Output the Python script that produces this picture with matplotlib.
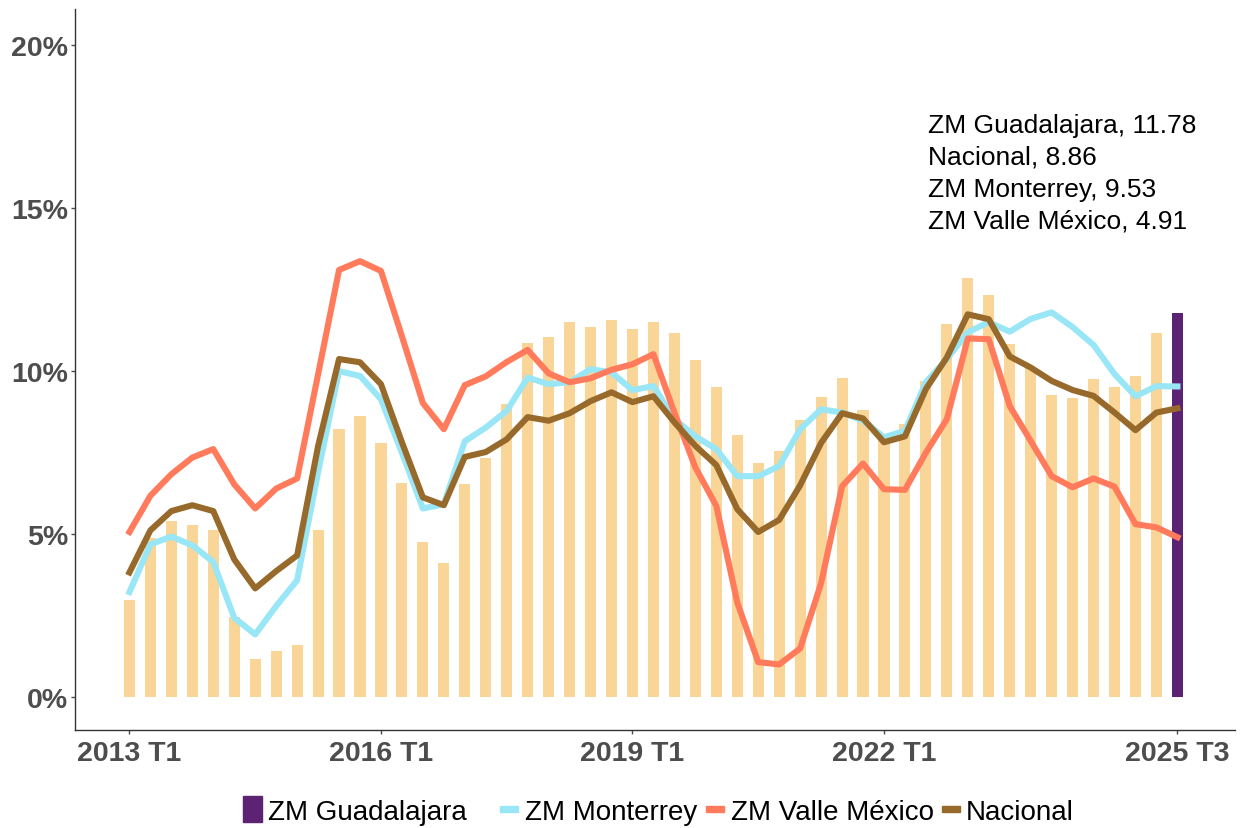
import numpy as np
import matplotlib
matplotlib.use("Agg")
import matplotlib.pyplot as plt
from matplotlib.patches import Rectangle

plt.rcParams['font.family'] = ['Liberation Sans', 'DejaVu Sans']

# quarters 2013 T1 .. 2025 T3
years = list(range(2013, 2026))
periodos = [f"{y} T{q}" for y in years for q in range(1, 5)][:51]

guadalajara = [2.98, 4.88, 5.40, 5.28, 5.12, 2.46, 1.17, 1.41, 1.60, 5.12,
               8.22, 8.62, 7.79, 6.56, 4.75, 4.11, 6.53, 7.33, 8.99, 10.86,
               11.04, 11.50, 11.35, 11.56, 11.29, 11.50, 11.16, 10.34, 9.51, 8.04,
               7.18, 7.55, 8.50, 9.20, 9.78, 8.80, 7.90, 8.37, 9.69, 11.44,
               12.85, 12.33, 10.83, 10.10, 9.26, 9.17, 9.75, 9.51, 9.84, 11.16,
               11.78]
monterrey = [3.23, 4.69, 4.93, 4.66, 4.15, 2.44, 1.93, 2.80, 3.59, 6.90,
             10.00, 9.85, 9.14, 7.50, 5.79, 5.92, 7.85, 8.27, 8.78, 9.80,
             9.60, 9.66, 10.06, 9.96, 9.42, 9.54, 8.53, 8.00, 7.61, 6.78,
             6.78, 7.09, 8.22, 8.83, 8.73, 8.48, 7.97, 8.17, 9.66, 10.37,
             11.19, 11.50, 11.21, 11.60, 11.80, 11.35, 10.80, 9.91, 9.23, 9.54,
             9.53]
valle_mexico = [5.07, 6.18, 6.84, 7.35, 7.61, 6.53, 5.79, 6.40, 6.71, 9.90,
                13.10, 13.37, 13.07, 11.07, 9.02, 8.22, 9.57, 9.84, 10.28, 10.65,
                9.93, 9.66, 9.78, 10.04, 10.21, 10.52, 8.73, 7.05, 5.87, 2.91,
                1.08, 1.01, 1.50, 3.50, 6.47, 7.17, 6.38, 6.36, 7.50, 8.53,
                11.00, 10.98, 8.93, 7.86, 6.78, 6.44, 6.71, 6.46, 5.31, 5.21,
                4.91]
nacional = [3.83, 5.12, 5.71, 5.89, 5.71, 4.23, 3.34, 3.87, 4.35, 7.70,
            10.37, 10.27, 9.60, 7.82, 6.13, 5.89, 7.37, 7.52, 7.91, 8.59,
            8.48, 8.71, 9.08, 9.35, 9.05, 9.23, 8.43, 7.71, 7.12, 5.77,
            5.07, 5.44, 6.50, 7.80, 8.71, 8.55, 7.82, 8.00, 9.45, 10.42,
            11.74, 11.59, 10.45, 10.11, 9.70, 9.42, 9.24, 8.73, 8.19, 8.73,
            8.86]

tick_labels = ["2013 T1", "2016 T1", "2019 T1", "2022 T1", "2025 T3"]

C_BAR = "#F9D597"
C_GDL = "#5C2273"
C_MTY = "#98E6F6"
C_VM = "#FF7B5C"
C_NAC = "#976A2C"
TXT = "#4D4D4D"

W, H = 1243, 829
x = np.arange(len(periodos))
fig = plt.figure(figsize=(W / 100, H / 100), dpi=100)
ax = fig.add_axes([0.0603, 0.1182, 0.9333, 0.8698])

bar_colors = [C_BAR] * (len(x) - 1) + [C_GDL]
ax.bar(x, guadalajara, width=0.53, color=bar_colors, zorder=1)
ax.plot(x, monterrey, color=C_MTY, lw=4.4, zorder=2)
ax.plot(x, valle_mexico, color=C_VM, lw=4.4, zorder=3)
ax.plot(x, nacional, color=C_NAC, lw=4.4, zorder=4)

ax.set_xlim(-2.6, 52.75)
ax.set_ylim(-1.0, 21.1)
ax.set_yticks([0, 5, 10, 15, 20])
ax.set_yticklabels([f"{v}%" for v in [0, 5, 10, 15, 20]])
ax.set_xticks([periodos.index(t) for t in tick_labels])
ax.set_xticklabels(tick_labels)
for lab in ax.get_xticklabels() + ax.get_yticklabels():
    lab.set_fontweight('bold')
    lab.set_fontsize(20.5)
    lab.set_color(TXT)
ax.tick_params(axis='both', colors=TXT, length=3, width=1)
ax.tick_params(axis='y', pad=2)
ax.tick_params(axis='x', pad=4)
for s in ['top', 'right']:
    ax.spines[s].set_visible(False)
for s in ['left', 'bottom']:
    ax.spines[s].set_color('#333333')
    ax.spines[s].set_linewidth(1.0)

ultimos = (f"ZM Guadalajara, {guadalajara[-1]:.2f}\n"
           f"Nacional, {nacional[-1]:.2f}\n"
           f"ZM Monterrey, {monterrey[-1]:.2f}\n"
           f"ZM Valle México, {valle_mexico[-1]:.2f}")
fig.text(928 / W, 1 - 114 / H, ultimos, fontsize=19, va='top',
         ha='left', linespacing=1.42, color='black')

# legend drawn by hand so the uneven ggplot-like spacing is kept
def fx(px):
    return px / W

def fy(py):
    return 1 - py / H

base = 820
fig.patches.append(Rectangle((fx(243), fy(base + 3)), 19 / W, 26 / H,
                             transform=fig.transFigure, color=C_GDL))
leg = [("ZM Guadalajara", 268, None, None),
       ("ZM Monterrey", 525, 500, C_MTY),
       ("ZM Valle México", 731, 706, C_VM),
       ("Nacional", 966, 942, C_NAC)]
for name, tx, kx, col in leg:
    if kx is not None:
        fig.patches.append(Rectangle((fx(kx), fy(base - 7)), 18 / W, 6 / H,
                                     transform=fig.transFigure, color=col))
    fig.text(fx(tx), fy(base), name, fontsize=20, va='baseline', ha='left')

fig.savefig("out.png", dpi=100)
